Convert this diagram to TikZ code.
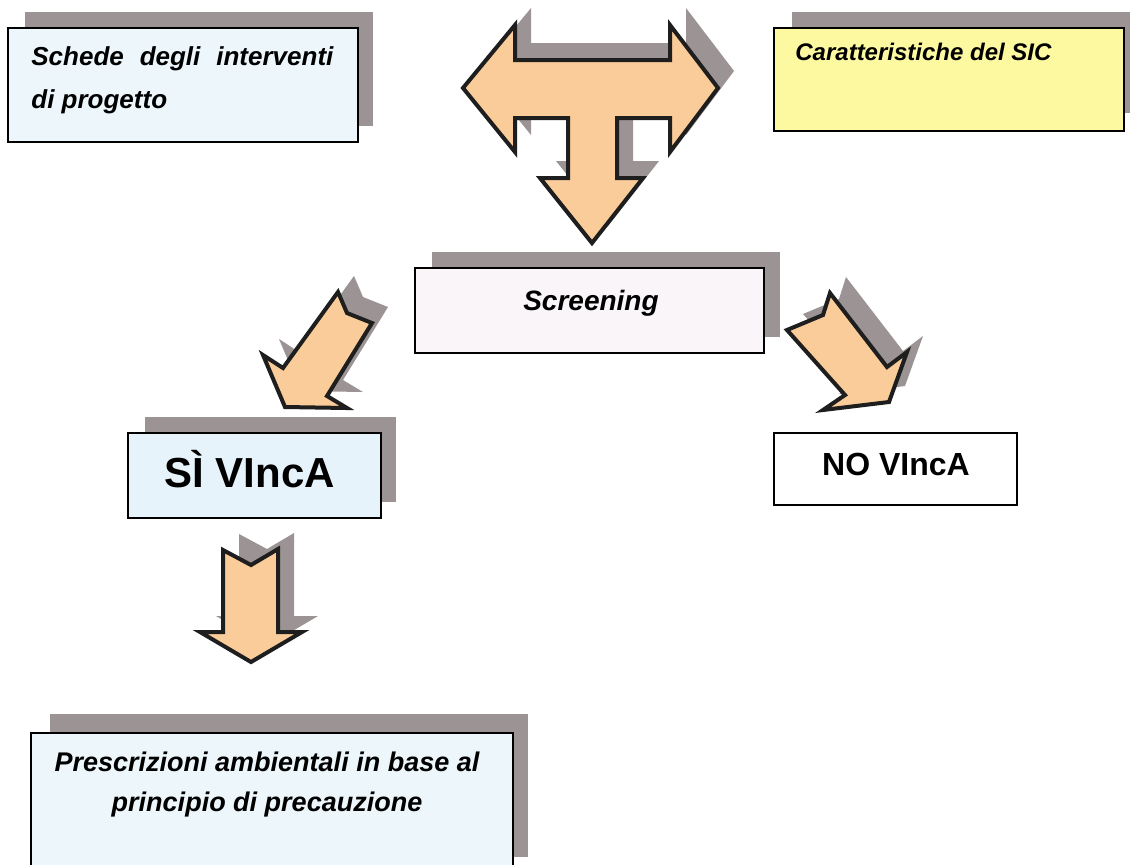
\documentclass[tikz,border=0pt]{standalone}
\usepackage{fontspec}
\setmainfont{Liberation Sans}
\definecolor{peach}{RGB}{250,204,153}
\definecolor{arrowline}{RGB}{30,30,30}
\definecolor{shadowgray}{RGB}{155,147,148}
\definecolor{paleblue}{RGB}{236,246,251}
\definecolor{paleblueB}{RGB}{230,243,250}
\definecolor{paleyellow}{RGB}{253,249,160}
\definecolor{palelav}{RGB}{249,245,249}
\begin{document}
\begin{tikzpicture}[x=0.5pt,y=-0.5pt,
  shadowrect/.style={fill=shadowgray,draw=none,inner sep=0pt,outer sep=0pt},
  frontrect/.style={draw=black,line width=1pt,inner sep=0pt,outer sep=0pt},
  blockarrow/.style={fill=peach,draw=arrowline,line width=2pt,line join=miter},
  arrowshadow/.style={fill=shadowgray,draw=none},
  itlbl/.style={inner sep=0pt,font=\bfseries\itshape\fontsize{13.5}{16}\selectfont},
  uplbl/.style={inner sep=0pt}]
\useasboundingbox (0,0) rectangle (1134,864);
\clip (0,0) rectangle (1134,864);
\fill[white] (0,0) rectangle (1134,864);

% ---------- boxes: shadows ----------
\node[shadowrect,minimum width=174pt,minimum height=57pt] (schedeS) at (199,69) {};
\node[shadowrect,minimum width=169pt,minimum height=50.5pt] (caratS) at (961,62.5) {};
\node[shadowrect,minimum width=174pt,minimum height=42.5pt] (screenS) at (606,294.5) {};
\node[shadowrect,minimum width=125.5pt,minimum height=42.5pt] (siS) at (270.5,459.5) {};
\node[shadowrect,minimum width=239pt,minimum height=71.5pt] (prescS) at (289,785.5) {};

% ---------- boxes: fronts ----------
\node[frontrect,fill=paleblue,minimum width=175pt,minimum height=57pt] (schede) at (183,85) {};
\node[frontrect,fill=paleyellow,minimum width=175pt,minimum height=51.5pt] (carat) at (949,79.5) {};
\node[frontrect,fill=palelav,minimum width=174.5pt,minimum height=42.5pt] (screen) at (589.5,310.5) {};
\node[frontrect,fill=paleblueB,minimum width=126.5pt,minimum height=42.5pt] (si) at (254.5,475.5) {};
\node[frontrect,fill=white,minimum width=121.5pt,minimum height=36pt] (no) at (895.5,469) {};
\node[frontrect,fill=paleblue,minimum width=241pt,minimum height=73.5pt] (presc) at (272,806.5) {};

% ---------- texts ----------
\node[itlbl,font=\bfseries\itshape\fontsize{13}{16}\selectfont,anchor=base west] (schedeT1) at (31,65) {\makebox[151pt][s]{Schede degli interventi}};
\node[itlbl,font=\bfseries\itshape\fontsize{13}{16}\selectfont,anchor=base west] (schedeT2) at (31,108) {di progetto};
\node[itlbl,font=\bfseries\itshape\fontsize{12}{14}\selectfont,anchor=base west] (caratT) at (795,60) {Caratteristiche del SIC};
\node[itlbl,font=\bfseries\itshape\fontsize{14}{16}\selectfont,anchor=base] (screenT) at (591,310) {Screening};
\node[uplbl,font=\bfseries\fontsize{21}{24}\selectfont,anchor=base west] (siT) at (164,487) {SÌ VIncA};
\node[uplbl,font=\bfseries\fontsize{16}{19}\selectfont,anchor=base] (noT) at (896,475) {NO VIncA};
\node[itlbl,anchor=base] (prescT1) at (267,771) {Prescrizioni ambientali in base al};
\node[itlbl,anchor=base] (prescT2) at (267,811) {principio di precauzione};

% ---------- T arrow ----------
\begin{scope}[shift={(16,-17)}]
\fill[arrowshadow] (463,88) -- (515,25) -- (515,60) -- (670,60) -- (670,25) -- (718,88) -- (670,152) -- (670,118) -- (617,118) -- (617,178) -- (643,178) -- (592,243) -- (540,178) -- (568,178) -- (568,118) -- (515,118) -- (515,152) -- cycle;
\end{scope}
\draw[blockarrow] (463,88) -- (515,25) -- (515,60) -- (670,60) -- (670,25) -- (718,88) -- (670,152) -- (670,118) -- (617,118) -- (617,178) -- (643,178) -- (592,243) -- (540,178) -- (568,178) -- (568,118) -- (515,118) -- (515,152) -- cycle;

% ---------- left diagonal arrow ----------
\begin{scope}[shift={(16,-16)}]
\fill[arrowshadow] (338,292) -- (347,313) -- (372,323) -- (327,396) -- (347,408) -- (285,407) -- (263,355) -- (283,368) -- cycle;
\end{scope}
\draw[blockarrow] (338,292) -- (347,313) -- (372,323) -- (327,396) -- (347,408) -- (285,407) -- (263,355) -- (283,368) -- cycle;

% ---------- right diagonal arrow ----------
\begin{scope}[shift={(16,-16)}]
\fill[arrowshadow] (830,293) -- (823,315) -- (787,330) -- (845,395) -- (823,410) -- (889,402) -- (907,352) -- (887,367) -- cycle;
\end{scope}
\draw[blockarrow] (830,293) -- (823,315) -- (787,330) -- (845,395) -- (823,410) -- (889,402) -- (907,352) -- (887,367) -- cycle;

% ---------- down arrow ----------
\begin{scope}[shift={(16,-16)}]
\fill[arrowshadow] (223,550) -- (251,565) -- (278,549) -- (278,632) -- (302,632) -- (251,662) -- (200,632) -- (223,632) -- cycle;
\end{scope}
\draw[blockarrow] (223,550) -- (251,565) -- (278,549) -- (278,632) -- (302,632) -- (251,662) -- (200,632) -- (223,632) -- cycle;
\end{tikzpicture}
\end{document}
